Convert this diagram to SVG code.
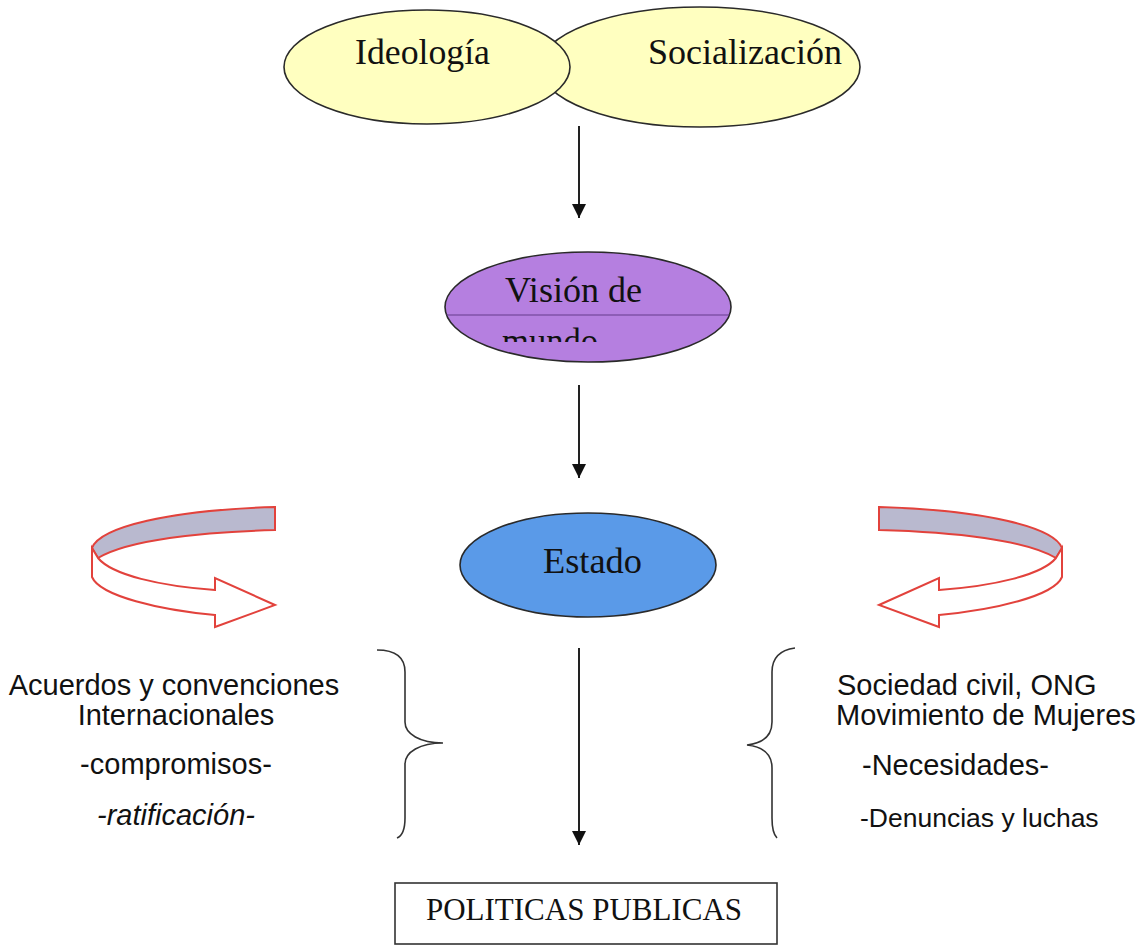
<svg xmlns="http://www.w3.org/2000/svg" width="1143" height="945" viewBox="0 0 1143 945">
<style>
.serif{font-family:"Liberation Serif","Times New Roman",serif;fill:#111;}
.sans{font-family:"Liberation Sans",Arial,sans-serif;fill:#111;}
.ell{stroke:#2a2a2a;stroke-width:1.6;}
.conn{stroke:#222;stroke-width:2;fill:none;}
.brace{stroke:#333;stroke-width:1.6;fill:none;}
.rib{stroke:#e2423c;stroke-width:2;stroke-linejoin:miter;}
</style>
<defs>
<marker id="ah" markerUnits="userSpaceOnUse" markerWidth="16" markerHeight="16" refX="14" refY="7" orient="auto">
<path d="M0,0 L14,7 L0,14 Z" fill="#111"/>
</marker>
<clipPath id="mclip"><rect x="430" y="250" width="320" height="92"/></clipPath>
<clipPath id="vclip"><ellipse cx="588" cy="307" rx="143" ry="55"/></clipPath>
<g id="ribbon">
<path class="rib" fill="#b9b9cf" d="M275,507 L275,530 C200,532 128,540 98,558 L92,548 C100,527 170,510 275,507 Z"/>
<path class="rib" fill="#ffffff" d="M92,548 L92,577 C100,596 160,610 215,615 L215,627 L275,605 L215,578 L215,590 C160,586 112,575 98,558 Z"/>
</g>
</defs>

<g id="node-socializacion">
<ellipse class="ell" cx="700" cy="67" rx="160" ry="60" fill="#ffffc0"/>
<text class="serif" x="648" y="64" font-size="35" textLength="194" lengthAdjust="spacingAndGlyphs">Socialización</text>
</g>
<g id="node-ideologia">
<ellipse class="ell" cx="427" cy="67" rx="143" ry="57" fill="#ffffc0"/>
<text class="serif" x="355" y="64" font-size="35" textLength="135" lengthAdjust="spacingAndGlyphs">Ideología</text>
</g>

<g id="node-vision">
<ellipse class="ell" cx="588" cy="307" rx="143" ry="55" fill="#b57fe0"/>
<line x1="440" y1="315" x2="740" y2="315" stroke="#6a3f90" stroke-width="1.5" opacity="0.7" clip-path="url(#vclip)"/>
<text class="serif" x="505" y="302" font-size="35" textLength="137" lengthAdjust="spacingAndGlyphs">Visión de</text>
<g clip-path="url(#mclip)"><text class="serif" x="502" y="353" font-size="35" textLength="96" lengthAdjust="spacingAndGlyphs">mundo</text></g>
</g>

<g id="node-estado">
<ellipse class="ell" cx="588" cy="565" rx="128" ry="52" fill="#5a9ae8"/>
<text class="serif" x="543" y="573" font-size="35" textLength="99" lengthAdjust="spacingAndGlyphs">Estado</text>
</g>

<g id="node-politicas">
<rect x="395" y="883" width="382" height="61" fill="#ffffff" stroke="#333" stroke-width="1.6"/>
<text class="serif" x="584" y="920" font-size="31" text-anchor="middle">POLITICAS PUBLICAS</text>
</g>

<g id="node-left-arrow">
<use href="#ribbon"/>
</g>
<g id="node-right-arrow">
<use href="#ribbon" transform="translate(1154,0) scale(-1,1)"/>
</g>

<g id="node-left-text">
<path class="brace" d="M377,650 C396,650 405,658 405,672 L405,722 C405,734 420,743 443,743 C420,743 405,752 405,764 L405,818 C405,830 402,836 397,838"/>
<text class="sans" font-size="29" text-anchor="middle">
<tspan x="178" y="695">Acuerdos y convenciones</tspan>
<tspan x="180" y="725">Internacionales</tspan>
<tspan x="180" y="774">-compromisos-</tspan>
<tspan x="176" y="825" font-style="italic">-ratificación-</tspan>
</text>
</g>

<g id="node-right-text">
<path class="brace" d="M795,648 C780,650 772,658 772,672 L772,722 C772,734 765,743 747,745 C765,747 772,756 772,768 L772,818 C772,830 774,835 777,838"/>
<text class="sans" font-size="29">
<tspan x="837" y="695">Sociedad civil, ONG</tspan>
<tspan x="836" y="725">Movimiento de Mujeres</tspan>
<tspan x="862" y="775">-Necesidades-</tspan>
<tspan x="860" y="827" font-size="26.5">-Denuncias y luchas</tspan>
</text>
</g>

<g id="connectors">
<line class="conn" x1="579" y1="126" x2="579" y2="218" marker-end="url(#ah)"/>
<line class="conn" x1="579" y1="385" x2="579" y2="478" marker-end="url(#ah)"/>
<line class="conn" x1="579" y1="648" x2="579" y2="845" marker-end="url(#ah)"/>
</g>
</svg>
